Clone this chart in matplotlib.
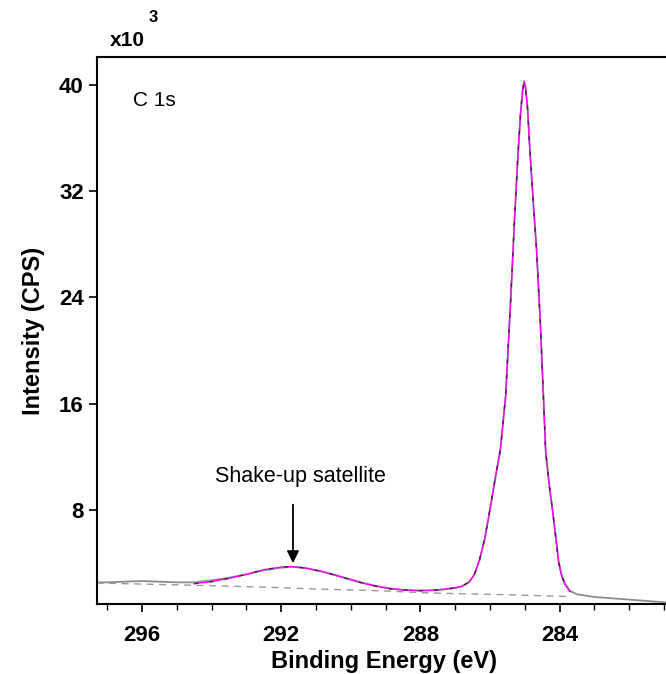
import numpy as np
import matplotlib
matplotlib.use('Agg')
import matplotlib.pyplot as plt
from matplotlib.ticker import MultipleLocator

plt.rcParams['font.family'] = ['Liberation Sans', 'DejaVu Sans']

# C 1s spectrum, binding energy (eV) vs intensity (x10^3 CPS)
be_raw = [297.3, 297.0, 296.5, 296.0, 295.5, 295.0, 294.5, 294.0, 293.5, 293.0, 292.5,
          292.0, 291.7, 291.3, 290.9, 290.5, 290.1, 289.7, 289.3, 288.9, 288.5, 288.0,
          287.6, 287.3, 287.0, 286.8, 286.6, 286.45, 286.3, 286.15, 286.0, 285.85,
          285.7, 285.55, 285.4, 285.3, 285.2, 285.12, 285.06, 285.02, 284.98, 284.92,
          284.85, 284.75, 284.66, 284.55, 284.4, 284.3, 284.2, 284.1, 284.03, 283.95,
          283.85, 283.7, 283.5, 283.0, 282.5, 282.0, 281.5, 281.0, 280.9]
cps_raw = [2.55, 2.55, 2.6, 2.65, 2.6, 2.55, 2.55, 2.7, 2.9, 3.15, 3.45,
           3.65, 3.72, 3.62, 3.42, 3.15, 2.85, 2.55, 2.3, 2.1, 1.98, 1.92,
           1.95, 2.02, 2.12, 2.25, 2.55, 3.1, 4.2, 5.8, 8.0, 10.3,
           12.5, 16.5, 24.0, 29.5, 34.5, 37.8, 39.6, 40.3, 39.9, 38.3,
           35.0, 31.0, 27.6, 22.0, 12.5, 10.0, 8.0, 5.8, 4.2, 3.2,
           2.5, 1.9, 1.65, 1.45, 1.35, 1.25, 1.15, 1.05, 1.0]

# fitted envelope
be_fit = [294.5, 294.0, 293.5, 293.0, 292.5, 292.0, 291.7, 291.3, 290.9, 290.5, 290.1,
          289.7, 289.3, 288.9, 288.5, 288.0, 287.6, 287.3, 287.0, 286.8, 286.6, 286.45,
          286.3, 286.15, 286.0, 285.85, 285.7, 285.55, 285.4, 285.3, 285.2, 285.12,
          285.06, 285.02, 284.98, 284.92, 284.85, 284.75, 284.66, 284.55, 284.4, 284.3,
          284.2, 284.1, 284.03, 283.95, 283.85, 283.7]
cps_fit = [2.45, 2.6, 2.85, 3.15, 3.5, 3.7, 3.74, 3.63, 3.4, 3.12, 2.82,
           2.52, 2.27, 2.08, 1.98, 1.93, 1.96, 2.04, 2.14, 2.27, 2.58, 3.15,
           4.25, 5.85, 8.05, 10.4, 12.6, 16.6, 24.1, 29.6, 34.6, 37.9,
           39.6, 40.2, 39.8, 38.2, 34.9, 30.9, 27.5, 21.9, 12.4, 9.9,
           7.9, 5.7, 4.1, 3.1, 2.4, 1.85]

# Shirley-type background
be_bg = [297.3, 296.0, 294.0, 292.0, 291.0, 290.0, 289.0, 288.0, 287.0, 286.0,
         285.0, 284.0, 283.7]
cps_bg = [2.5, 2.42, 2.3, 2.15, 2.05, 1.98, 1.9, 1.78, 1.7, 1.65, 1.58, 1.5, 1.48]

fig = plt.figure(figsize=(6.66, 6.74), dpi=100)
ax = fig.add_axes([97 / 666, 1 - 604 / 674, 575 / 666, 547 / 674])

ax.plot(be_raw, cps_raw, color='#8c8c8c', lw=1.3, zorder=2)
ax.plot(be_fit, cps_fit, color='#ff00ff', lw=1.0, zorder=3)
ax.plot(be_fit, cps_fit, color='#333333', lw=1.0, ls=(0, (3, 8)), zorder=4)
ax.plot(be_bg, cps_bg, color='#999999', lw=1.0, ls=(0, (5, 4)), zorder=2)

ax.set_xlim(297.29, 280.77)
ax.set_ylim(0.92, 42.1)
ax.xaxis.set_major_locator(MultipleLocator(4))
ax.xaxis.set_minor_locator(MultipleLocator(1))
ax.set_yticks([8, 16, 24, 32, 40])
ax.tick_params(axis='both', which='major', direction='out', length=6, width=1.2,
               labelsize=16)
ax.tick_params(axis='x', which='major', pad=9)
ax.tick_params(axis='x', which='minor', direction='out', length=4, width=1.0)
for lab in ax.get_xticklabels() + ax.get_yticklabels():
    lab.set_fontweight('bold')
ax.spines['right'].set_visible(False)
for s in ['left', 'bottom', 'top']:
    ax.spines[s].set_linewidth(1.5)

ax.set_xlabel('Binding Energy (eV)', fontsize=17, fontweight='bold', labelpad=3)
ax.set_ylabel('Intensity (CPS)', fontsize=17, fontweight='bold', labelpad=10)

fig.text(110 / 666, 1 - 41 / 674, 'x10', fontsize=15, fontweight='bold',
         va='center', ha='left')
fig.text(149 / 666, 1 - 17 / 674, '3', fontsize=12, fontweight='bold',
         va='center', ha='left')
ax.text(0.063, 0.92, 'C 1s', transform=ax.transAxes, fontsize=15,
        va='center', ha='left')

ax.text(291.44, 9.75, 'Shake-up satellite', fontsize=15.5, ha='center', va='bottom')
ax.annotate('', xy=(291.66, 4.0), xytext=(291.66, 8.4),
            arrowprops=dict(arrowstyle='-|>', color='black', lw=1.3,
                            mutation_scale=18, shrinkA=0, shrinkB=0))

fig.savefig('out.png', dpi=100)
